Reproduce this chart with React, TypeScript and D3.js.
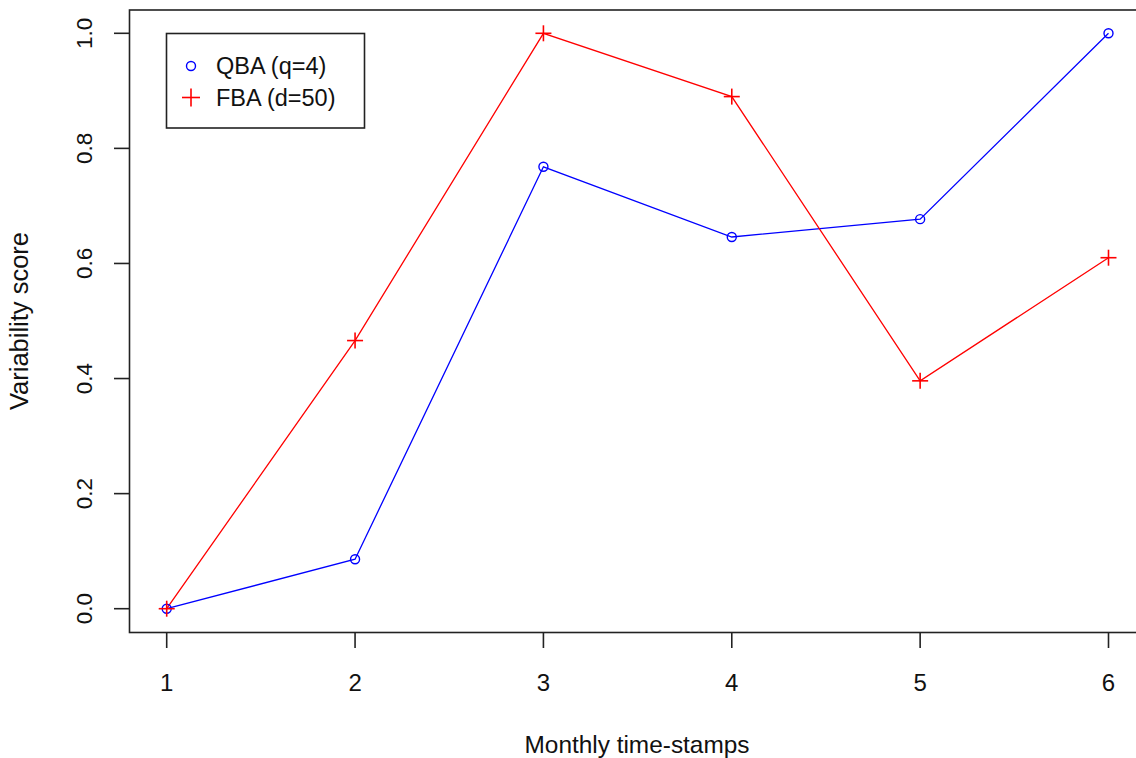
import React from "react";
import * as d3 from "d3";

const timeStamps = [1, 2, 3, 4, 5, 6];
const qbaValues = [0, 0.086, 0.768, 0.646, 0.677, 1.0];
const fbaValues = [0, 0.466, 1.0, 0.89, 0.396, 0.61];
const yTicks = [0, 0.2, 0.4, 0.6, 0.8, 1.0];
const xTicks = [1, 2, 3, 4, 5, 6];
const legendLabels = ["QBA (q=4)", "FBA (d=50)"];

const W = 1136;
const H = 758;
const FONT = "'Liberation Sans', Arial, sans-serif";

export default function App() {
  const x = d3.scaleLinear().domain([1, 6]).range([166.7, 1108.5]);
  const y = d3.scaleLinear().domain([0, 1]).range([608.7, 33.3]);
  const line = d3
    .line<number>()
    .x((_, i) => x(timeStamps[i]))
    .y((d) => y(d));

  const boxL = 129.5, boxT = 10, boxB = 632.5, boxR = 1145;

  return (
    <svg
      width={W}
      height={H}
      style={{ position: "absolute", left: 0, top: 0, background: "#fff" }}
      fontFamily={FONT}
    >
      <rect x={0} y={0} width={W} height={H} fill="#fff" />
      {/* plot box */}
      <rect x={boxL} y={boxT} width={boxR - boxL} height={boxB - boxT} fill="none" stroke="#222" strokeWidth={1.6} />

      {/* x axis ticks */}
      {xTicks.map((t) => (
        <g key={"x" + t}>
          <line x1={x(t)} x2={x(t)} y1={boxB} y2={boxB + 15.5} stroke="#222" strokeWidth={1.6} />
          <text x={x(t)} y={690.5} textAnchor="middle" fontSize={24} fill="#111">
            {t}
          </text>
        </g>
      ))}
      {/* y axis ticks */}
      {yTicks.map((t) => (
        <g key={"y" + t}>
          <line x1={boxL} x2={boxL - 15.5} y1={y(t)} y2={y(t)} stroke="#222" strokeWidth={1.6} />
          <text
            transform={`translate(92,${y(t)}) rotate(-90)`}
            textAnchor="middle"
            fontSize={22.5}
            fill="#111"
          >
            {t.toFixed(1)}
          </text>
        </g>
      ))}

      {/* axis titles */}
      <text x={637} y={753} textAnchor="middle" fontSize={24.4} fill="#111">
        Monthly time-stamps
      </text>
      <text
        transform={`translate(28,321) rotate(-90)`}
        textAnchor="middle"
        fontSize={25.5}
        fill="#111"
      >
        Variability score
      </text>

      {/* series */}
      <path d={line(qbaValues) || ""} fill="none" stroke="#0000ff" strokeWidth={1.3} />
      <path d={line(fbaValues) || ""} fill="none" stroke="#ff0000" strokeWidth={1.3} />
      {qbaValues.map((v, i) => (
        <circle key={"q" + i} cx={x(timeStamps[i])} cy={y(v)} r={4.5} fill="none" stroke="#0000ff" strokeWidth={1.4} />
      ))}
      {fbaValues.map((v, i) => (
        <g key={"f" + i} stroke="#ff0000" strokeWidth={1.6}>
          <line x1={x(timeStamps[i]) - 8} x2={x(timeStamps[i]) + 8} y1={y(v)} y2={y(v)} />
          <line x1={x(timeStamps[i])} x2={x(timeStamps[i])} y1={y(v) - 8} y2={y(v) + 8} />
        </g>
      ))}

      {/* legend */}
      <rect x={166.5} y={33.5} width={198} height={94.5} fill="#fff" stroke="#222" strokeWidth={1.6} />
      <circle cx={191} cy={66} r={4.5} fill="none" stroke="#0000ff" strokeWidth={1.4} />
      <g stroke="#ff0000" strokeWidth={1.6}>
        <line x1={182} x2={200} y1={97.5} y2={97.5} />
        <line x1={191} x2={191} y1={88.5} y2={106.5} />
      </g>
      <text x={216} y={74} fontSize={23.5} fill="#111">
        {legendLabels[0]}
      </text>
      <text x={216} y={106} fontSize={23.5} fill="#111">
        {legendLabels[1]}
      </text>
    </svg>
  );
}
